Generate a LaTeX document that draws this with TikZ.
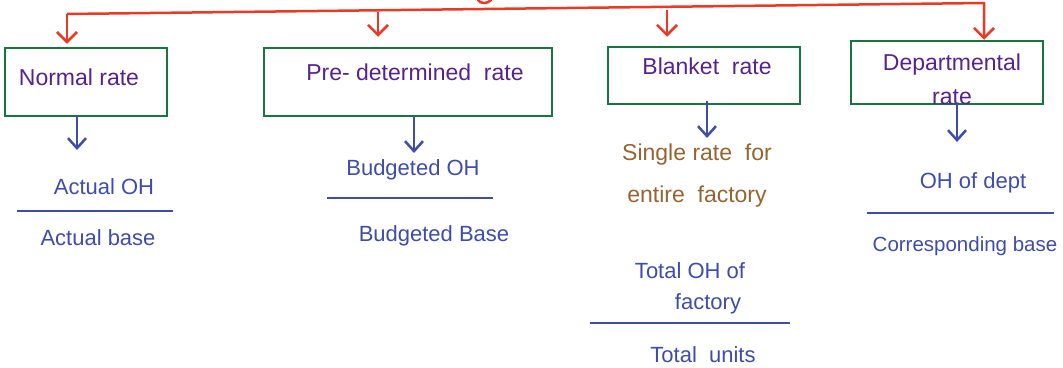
\documentclass[tikz,border=0pt]{standalone}
\usepackage{fontspec}
\setmainfont{Liberation Sans}
\usetikzlibrary{arrows.meta}

\definecolor{treered}{RGB}{234,58,38}
\definecolor{boxgreen}{RGB}{22,118,62}
\definecolor{labpurple}{RGB}{88,34,140}
\definecolor{inkblue}{RGB}{62,76,172}
\definecolor{inkbrown}{RGB}{150,100,48}

\begin{document}
\begin{tikzpicture}[x=1pt,y=-1pt,
  ratebox/.style={draw=boxgreen,line width=2.5pt,inner sep=0pt},
  ratetxt/.style={text=labpurple,inner sep=0pt,align=center,font=\fontsize{23}{34}\selectfont},
  inktxt/.style={text=inkblue,inner sep=0pt,align=center,font=\fontsize{22}{34}\selectfont},
  notetxt/.style={text=inkbrown,inner sep=0pt,align=center,font=\fontsize{23}{42}\selectfont},
  redarrow/.style={draw=treered,line width=2.5pt,line join=round,-{Straight Barb[length=10pt,width=20pt]}},
  inkarrow/.style={draw=inkblue,line width=2.5pt,-{Straight Barb[length=10pt,width=18pt]}},
  fracline/.style={draw=inkblue,line width=2.5pt}]
  \useasboundingbox (0,0) rectangle (1063,367);

  % the four rate boxes
  \node[ratebox,minimum width=162pt,minimum height=68pt] (normal) at (86,82) {};
  \node[ratebox,minimum width=288pt,minimum height=68pt] (predet) at (408,82) {};
  \node[ratebox,minimum width=192pt,minimum height=57pt] (blanket) at (704,75.5) {};
  \node[ratebox,minimum width=192pt,minimum height=63pt] (dept) at (947,72.5) {};

  \node[ratetxt] (normaltxt) at (79,77) {Normal rate};
  \node[ratetxt] (predettxt) at (415,72) {Pre- determined \ rate};
  \node[ratetxt] (blankettxt) at (707,66) {Blanket \ rate};
  \node[ratetxt] (depttxt) at (952,79) {Departmental\\rate};

  % red branches from the top
  \coordinate (tl) at (67,14);
  \coordinate (tr) at (984,3);
  \coordinate (b2) at (378,12);
  \coordinate (b3) at (667,10);
  \draw[treered,line width=2.5pt,line cap=round] (478,0) .. controls (480,4) and (488,4) .. (491,0);
  \draw[redarrow,shorten >=3pt] (tl) -- ([xshift=-19pt]normal.north);
  \draw[redarrow] (tl) -- (tr) -- ([xshift=37pt]dept.north);
  \draw[redarrow,shorten >=10pt] (b2) -- (b2 |- predet.north);
  \draw[redarrow,shorten >=9pt] (b3) -- (b3 |- blanket.north);

  % what each rate works out to
  \coordinate (n1) at (77,150);
  \coordinate (p1) at (414,153);
  \coordinate (k1) at (707,138);
  \coordinate (d1) at (957,142);
  \draw[inkarrow] ([yshift=2pt]normal.south -| n1) -- (n1);
  \draw[inkarrow] (predet.south -| p1) -- (p1);
  \draw[inkarrow] ([yshift=4pt]blanket.south -| k1) -- (k1);
  \draw[inkarrow] ([yshift=2pt]dept.south -| d1) -- (d1);

  \node[inktxt] (actoh) at (104,187) {Actual OH};
  \draw[fracline] (17,211) -- (173,211);
  \node[inktxt] (actbase) at (98,238) {Actual base};

  \node[inktxt] (budoh) at (413,170) {Budgeted OH};
  \draw[fracline] (327,198) -- (493,198);
  \node[inktxt] (budbase) at (434,236) {Budgeted Base};

  \node[notetxt] (single) at (697,176) {Single rate \ for\\entire \ factory};

  \node[inktxt] (totoh) at (690,271) {Total OH of};
  \node[inktxt] (totfac) at (708,304) {factory};
  \draw[fracline] (590,323) -- (790,323);
  \node[inktxt] (totunits) at (703,355) {Total \ units};

  \node[inktxt] (deptoh) at (973,183) {OH of dept};
  \draw[fracline] (867,213) -- (1054,213);
  \node[inktxt,font=\fontsize{20.5}{30}\selectfont] (corrbase) at (965,246) {Corresponding base};
\end{tikzpicture}
\end{document}
